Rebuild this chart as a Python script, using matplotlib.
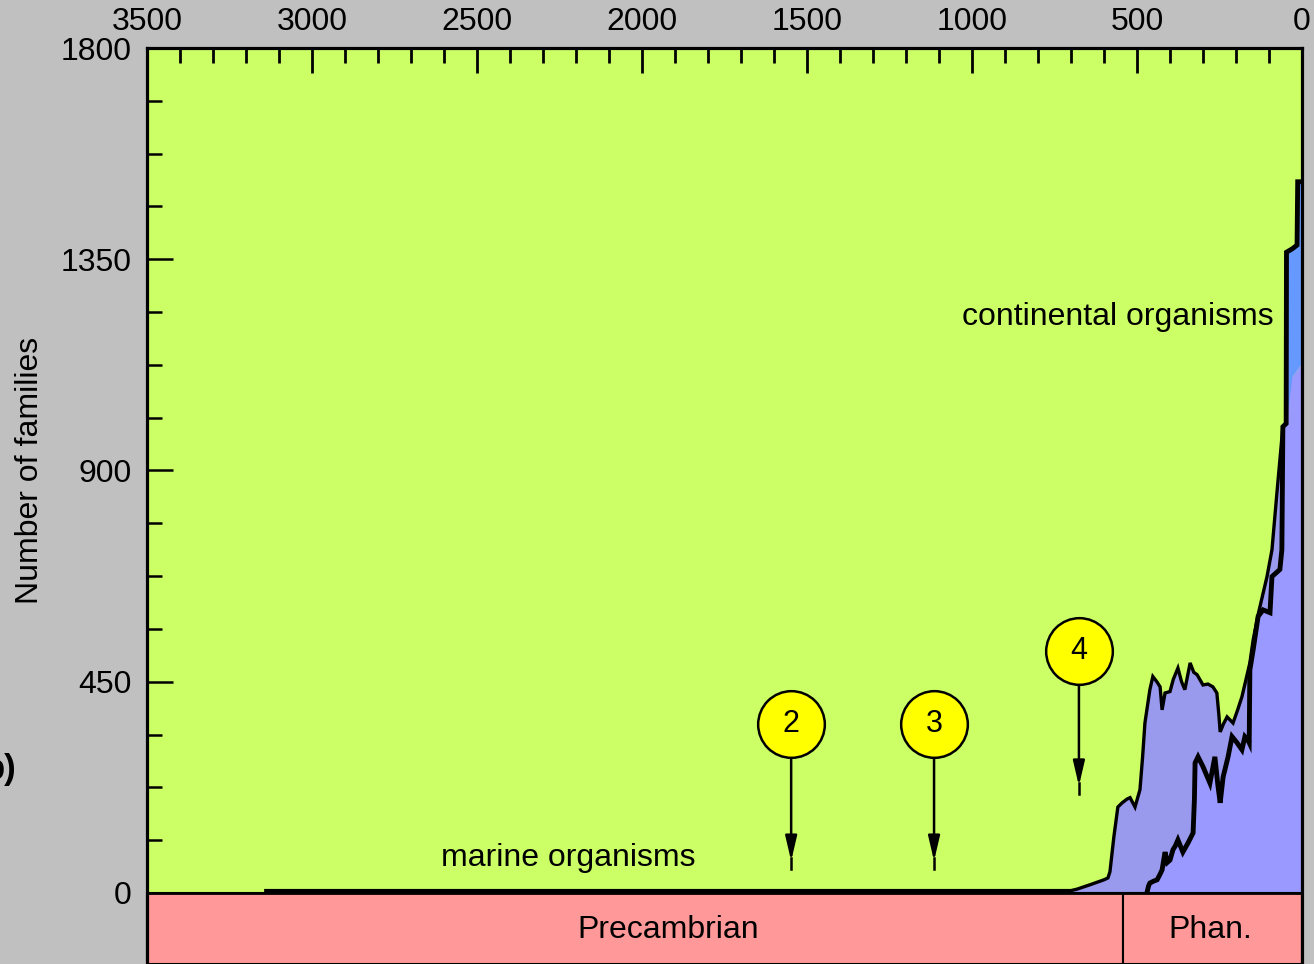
import numpy as np
import matplotlib
matplotlib.use("Agg")
import matplotlib.pyplot as plt
from matplotlib.patches import Rectangle

plt.rcParams['font.family'] = ['Liberation Sans', 'DejaVu Sans']

# ---------------- data ----------------
# observed marine families (left, grey-lavender area)
obs_age = [3140, 2000, 1000, 700, 682, 640, 600, 588, 582, 570, 558, 545, 530, 521, 506, 491,
           483, 476, 461, 452, 440, 430, 424, 415, 400, 390, 376, 365, 355, 339, 328, 318,
           300, 285, 270, 258, 252, 248, 238, 227, 209, 195, 182, 158, 148, 133, 106, 91, 75, 58]
obs_fam = [5, 5, 5, 5, 8, 18, 28, 32, 45, 120, 183, 192, 200, 203, 183, 220,
           290, 362, 433, 461, 450, 439, 390, 426, 429, 455, 479, 450, 433, 490, 470, 465,
           443, 445, 439, 426, 380, 343, 360, 375, 362, 390, 418, 490, 539, 593, 674, 731, 860, 993]

# marine organisms (thick curve, lavender area)
marine_age = [470, 465, 461, 450, 439, 430, 424, 415, 408, 400, 391, 384, 376, 361, 345, 330,
              326, 324, 315, 300, 279, 264, 255, 248, 239, 224, 212, 197, 182, 173, 164, 160,
              158, 148, 133, 118, 97, 91, 67, 61, 58, 48, 36, 0]
marine_fam = [0, 15, 21, 25, 28, 40, 49, 87, 65, 70, 92, 100, 113, 87, 107, 128,
              200, 277, 290, 269, 234, 290, 230, 192, 247, 290, 333, 320, 305, 333, 326, 320,
              475, 518, 589, 603, 597, 674, 689, 731, 993, 1000, 1094, 1130]

# marine + continental organisms
total_age = [48, 47, 30, 15, 13, 0]
total_fam = [1000, 1365, 1372, 1380, 1515, 1515]

eon_names = ['Precambrian', 'Phan.']
eon_bounds = [3500, 541, 0]
eon_label_age = [1921, 279]

event_labels = ['2', '3', '4']
event_age = [1548, 1115, 676]
event_level = [360, 360, 516]
event_tip = [50, 50, 210]

xticks_major = list(range(0, 3501, 500))
yticks_major = [0, 450, 900, 1350, 1800]

# ---------------- figure ----------------
W, H = 1314, 964
fig = plt.figure(figsize=(W / 100, H / 100), dpi=100)
fig.patch.set_facecolor('#c0c0c0')

FS = 23
ymin = -151.4
ax = fig.add_axes([147 / W, 0, (1302 - 147) / W, 1 - 48 / H])
ax.set_facecolor('#ccff66')
ax.set_xlim(3500, 0)
ax.set_ylim(ymin, 1800)

c_obs = '#9999ee'
c_mar = '#9999ff'
c_con = '#6699ff'

# areas
ax.fill_between(obs_age, 0, obs_fam, color=c_obs, lw=0, zorder=2)
ax.fill_between(marine_age, 0, marine_fam, color=c_mar, lw=0, zorder=3)
m_interp = np.interp(total_age, marine_age[::-1], marine_fam[::-1])
ax.fill_between(total_age, m_interp, total_fam, color=c_con, lw=0, zorder=3)

# outlines
ax.plot(obs_age, obs_fam, color='k', lw=2.4, zorder=4, solid_joinstyle='miter')
k = marine_age.index(48)
outline_age = marine_age[:k + 1] + total_age[1:]
outline_fam = marine_fam[:k + 1] + total_fam[1:]
ax.plot(outline_age, outline_fam, color='k', lw=3.5, zorder=4, solid_joinstyle='miter')

# eon band
for i, name in enumerate(eon_names):
    a0, a1 = eon_bounds[i], eon_bounds[i + 1]
    ax.add_patch(Rectangle((a1, ymin), a0 - a1, -ymin, facecolor='#ff9999',
                           edgecolor='k', lw=1.5, zorder=5, clip_on=False))
    ax.text(eon_label_age[i], ymin * 0.5 - 3, name, ha='center', va='center',
            fontsize=FS, zorder=6)
ax.axhline(0, color='k', lw=2, zorder=6)

# event markers
for lab, age, lev, tip in zip(event_labels, event_age, event_level, event_tip):
    ax.annotate('', xy=(age, tip + 18), xytext=(age, lev - 70),
                arrowprops=dict(arrowstyle='-|>,head_length=1.5,head_width=0.35',
                                color='k', lw=1.8, shrinkA=0, shrinkB=0), zorder=6)
    ax.plot([age, age], [tip + 25, tip], color='k', lw=1.8, zorder=6)
    ax.plot(age, lev, 'o', ms=48, mfc='#ffff00', mec='k', mew=1.8, zorder=7)
    ax.text(age, lev, lab, ha='center', va='center', fontsize=22, zorder=8)

# text labels
ax.text(1030, 1226, 'continental organisms', ha='left', va='center', fontsize=FS, zorder=8)
ax.text(2609, 75, 'marine organisms', ha='left', va='center', fontsize=FS, zorder=8)

# axes styling
ax.xaxis.tick_top()
ax.set_xticks(xticks_major)
ax.set_xticks(range(0, 3501, 100), minor=True)
ax.set_yticks(yticks_major)
minor_y = [v for v in np.arange(112.5, 1800, 112.5) if v not in yticks_major]
ax.set_yticks(minor_y, minor=True)
ax.tick_params(axis='x', which='major', direction='in', length=18, width=2, pad=8,
               labelsize=FS, top=True, bottom=False)
ax.tick_params(axis='x', which='minor', direction='in', length=11, width=2,
               top=True, bottom=False)
ax.tick_params(axis='y', which='major', direction='in', length=19, width=1.8, pad=11,
               labelsize=FS, left=True, right=False)
ax.tick_params(axis='y', which='minor', direction='in', length=11, width=1.8,
               left=True, right=False)
for lab in ax.get_xticklabels() + ax.get_yticklabels():
    lab.set_zorder(10)
for s in ['left', 'top', 'right']:
    ax.spines[s].set_linewidth(2.3)
    ax.spines[s].set_zorder(9)
ax.spines['bottom'].set_visible(False)

fig.text(30 / W, 1 - 470 / H, 'Number of families', rotation=90, ha='center',
         va='center', fontsize=FS)
fig.text(17 / W, 1 - 770 / H, 'b)', ha='right', va='center', fontsize=25,
         fontweight='bold')

fig.savefig('out.png', dpi=100, facecolor=fig.get_facecolor())
